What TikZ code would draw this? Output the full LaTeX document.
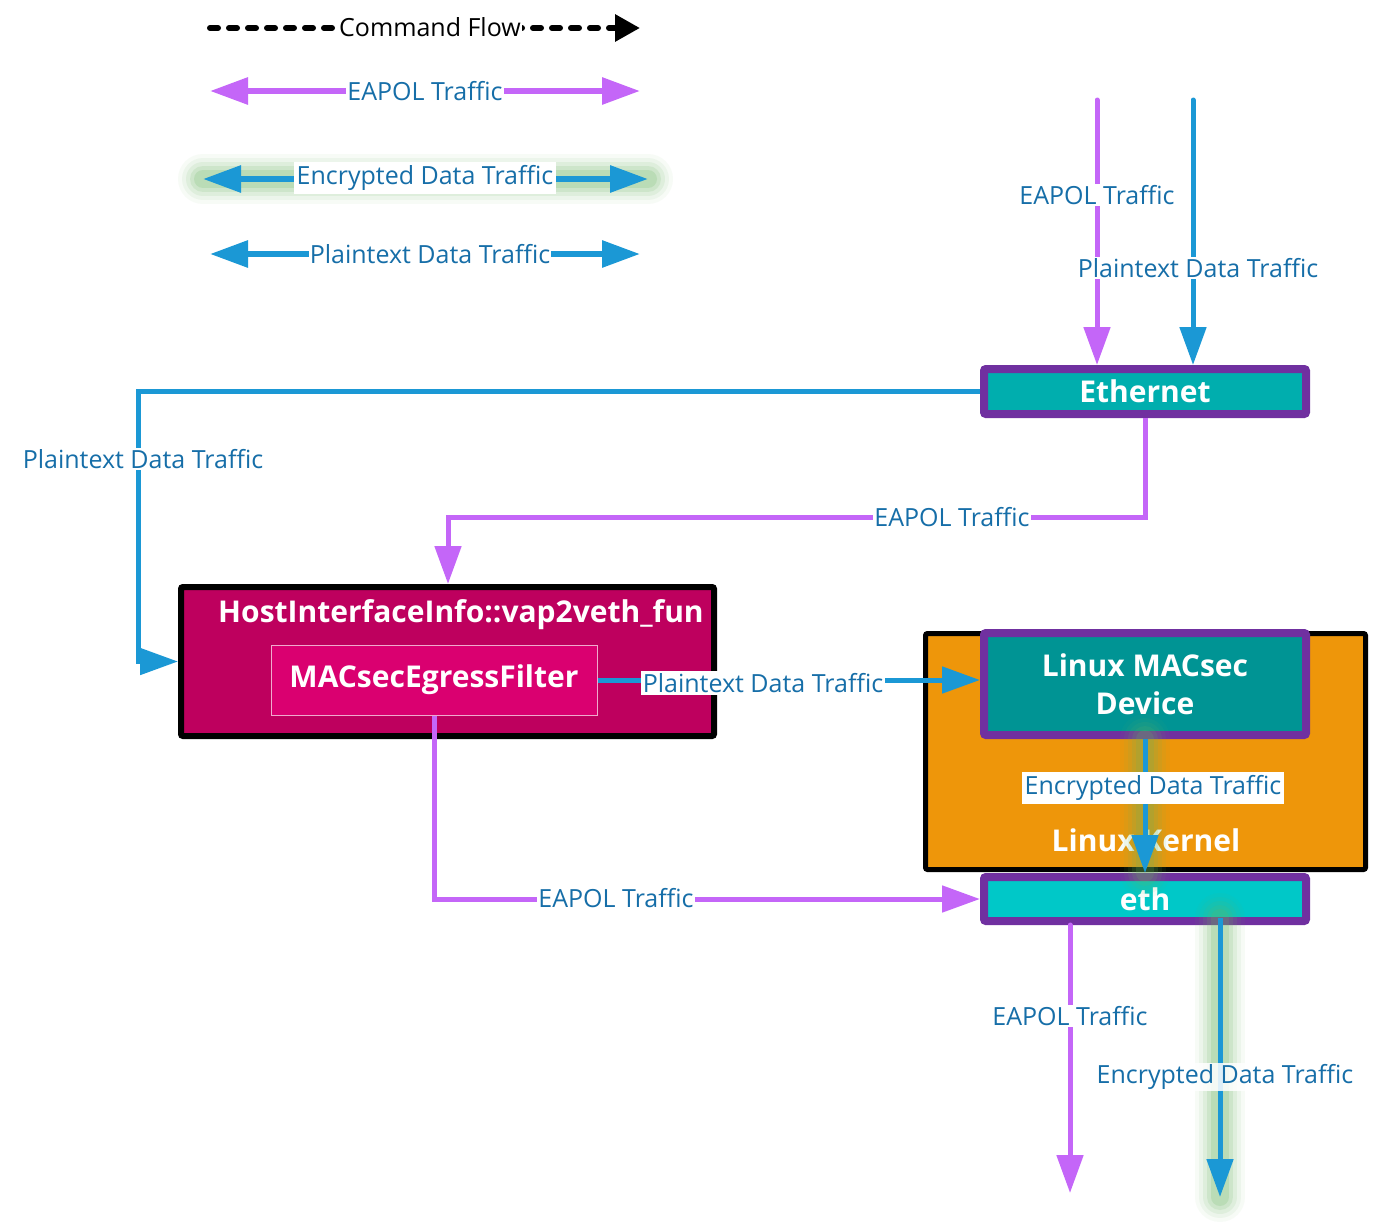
\documentclass[tikz,border=0pt]{standalone}
\usepackage{fontspec}
\setmainfont{Open Sans}
\usetikzlibrary{arrows.meta,calc}
\definecolor{eapolc}{RGB}{196,102,248}
\definecolor{datac}{RGB}{27,152,213}
\definecolor{lblc}{RGB}{22,110,168}
\definecolor{edgec}{RGB}{112,48,160}
\definecolor{etherfill}{RGB}{0,174,174}
\definecolor{macfill}{RGB}{0,148,148}
\definecolor{ethfill}{RGB}{0,200,200}
\definecolor{hostfill}{RGB}{190,0,94}
\definecolor{filterfill}{RGB}{218,0,112}
\definecolor{filteredge}{RGB}{240,170,205}
\definecolor{kernfill}{RGB}{238,150,10}
\definecolor{glowc}{RGB}{105,180,95}
\tikzset{
  lbltext/.style={font=\fontsize{25}{28}\selectfont, text=lblc, fill=white, inner sep=1pt},
  boldtext/.style={font=\fontsize{30}{38}\selectfont\bfseries, text=white, align=center},
  devbox/.style={draw=edgec, line width=8pt, rounded corners=2pt, inner sep=0pt, boldtext},
  tipA/.style={-{Triangle[length=38pt,width=26pt]}},
  tipAB/.style={{Triangle[length=38pt,width=26pt]}-{Triangle[length=38pt,width=26pt]}},
  eapol/.style={draw=eapolc, line width=5pt},
  dataline/.style={draw=datac, line width=5pt},
  glowpath/.style={
    preaction={draw=glowc, line width=50pt, opacity=.05, line cap=round, -},
    preaction={draw=glowc, line width=42pt, opacity=.07, line cap=round, -},
    preaction={draw=glowc, line width=34pt, opacity=.10, line cap=round, -},
    preaction={draw=glowc, line width=26pt, opacity=.14, line cap=round, -},
    preaction={draw=glowc, line width=18pt, opacity=.18, line cap=round, -}},
}
\begin{document}
\begin{tikzpicture}[x=1pt,y=-1pt]
\useasboundingbox[fill=white] (0,0) rectangle (1375,1221);

% ---------- legend ----------
\coordinate (cfA) at (210,28);
\coordinate (cfB) at (640,28);
\coordinate (evA) at (210,91);
\coordinate (evB) at (640,91);
\coordinate (enA) at (203,179);
\coordinate (enB) at (648,179);
\coordinate (plA) at (210,254);
\coordinate (plB) at (640,254);

\draw[black, line width=6pt, line cap=round, dash pattern=on 8pt off 11pt, -{Triangle[length=25pt,width=26pt]}] (cfA) -- (cfB);
\node[font=\fontsize{25}{28}\selectfont, fill=white, inner sep=1pt] (cflbl) at (430,27) {Command Flow};

\draw[eapol, tipAB, line width=6pt] (evA) -- (evB);
\node[lbltext] (evlbl) at (425,91) {EAPOL Traffic};

\draw[dataline, tipAB, line width=6pt, glowpath] (enA) -- (enB);
\node[lbltext, inner sep=3pt] (enlbl) at (425,178) {Encrypted Data Traffic};

\draw[dataline, tipAB, line width=6pt] (plA) -- (plB);
\node[lbltext] (pllbl) at (430,254) {Plaintext Data Traffic};

% ---------- boxes ----------
\node[draw=black, line width=6pt, rounded corners=2pt, fill=hostfill, minimum width=533pt, minimum height=149pt] (host) at (447.5,661.5) {};
\node[boldtext] (hosttitle) at (461,615) {HostInterfaceInfo::vap2veth\_fun};
\node[draw=filteredge, line width=1pt, fill=filterfill, minimum width=326pt, minimum height=70pt, boldtext] (filter) at (434,680) {MACsecEgressFilter};

\node[draw=black, line width=5pt, rounded corners=2pt, fill=kernfill, minimum width=440pt, minimum height=236pt] (kernel) at (1145.5,751.5) {};
\node[boldtext] (kernlbl) at (1146,840) {Linux Kernel};

\node[devbox, fill=etherfill, minimum width=322pt, minimum height=45pt] (ether) at (1145,391.5) {Ethernet};
\node[devbox, fill=macfill, minimum width=322pt, minimum height=102pt] (macsec) at (1145,684) {Linux MACsec\\Device};
\node[devbox, fill=ethfill, minimum width=322pt, minimum height=44pt] (eth) at (1145,899) {eth};

% ---------- connectors ----------
\coordinate (inE) at (1097,100);
\coordinate (inP) at (1193,100);
\coordinate (outE) at (1070,1193);
\coordinate (outD) at (1220,1197);

\draw[eapol, tipA, line cap=round] (inE) -- (inE |- ether.north);
\draw[dataline, tipA, line cap=round] (inP) -- (inP |- ether.north);

\draw[dataline, tipA] (ether.west) -- (138,391.5) |- (host.west);
\draw[eapol, tipA] (ether.south) -- (1145,517) -| (448,0 |- host.north);

\draw[dataline, tipA] (filter.east) -- (filter.east -| macsec.west);
\draw[eapol, tipA] (filter.south) |- (eth.west);

\draw[eapol, tipA, line cap=round] (1070,0 |- eth.south) -- (outE);
\draw[dataline, tipA, glowpath] (1220,918) -- (outD);
\draw[dataline, tipA, glowpath] (macsec.south) -- (eth.north);

% ---------- connector labels ----------
\node[lbltext] (l1) at (1097,195) {EAPOL Traffic};
\node[lbltext] (l2) at (1198,268) {Plaintext Data Traffic};
\node[lbltext] (l3) at (143,459) {Plaintext Data Traffic};
\node[lbltext] (l4) at (952,517) {EAPOL Traffic};
\node[lbltext, inner sep=2pt] (l5) at (763,683) {Plaintext Data Traffic};
\node[lbltext, inner sep=3pt] (l6) at (1153,788) {Encrypted Data Traffic};
\node[lbltext] (l7) at (616,898) {EAPOL Traffic};
\node[lbltext] (l8) at (1070,1016) {EAPOL Traffic};
\node[lbltext, fill opacity=.85, text opacity=1] (l9) at (1225,1077) {Encrypted Data Traffic};
\end{tikzpicture}
\end{document}
